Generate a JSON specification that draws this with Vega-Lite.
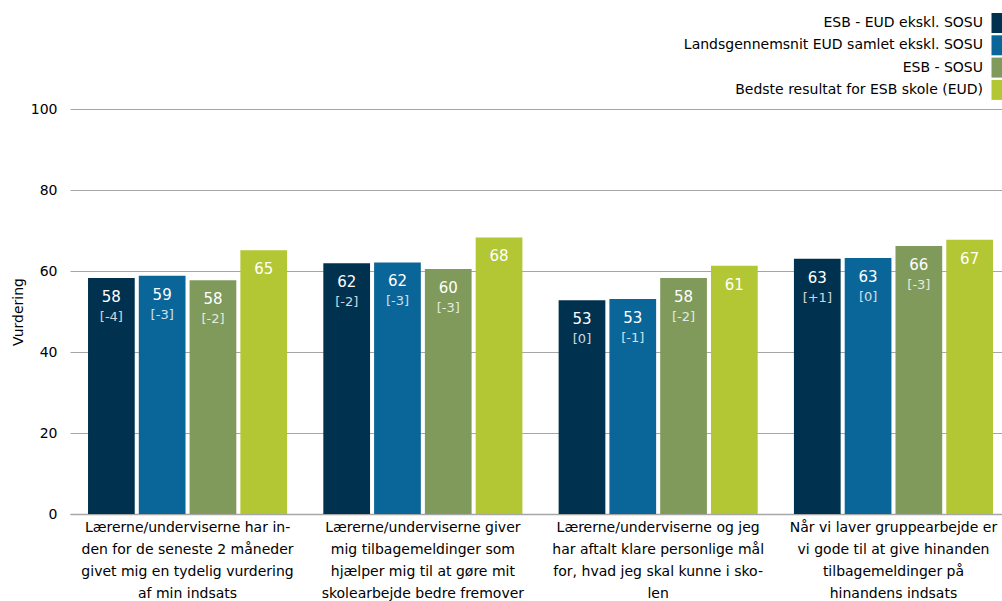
{
  "$schema": "https://vega.github.io/schema/vega-lite/v6.json",
  "width": 932,
  "height": 405,
  "autosize": {"type": "none"},
  "padding": {"left": 70, "top": 109, "right": 0, "bottom": 87},
  "config": {
    "view": {"stroke": null},
    "font": "DejaVu Sans",
    "axis": {"labelColor": "#000000", "titleColor": "#000000", "labelFontSize": 14, "titleFontSize": 14, "titleFontWeight": "normal"}
  },
  "data": {
    "values": [
      {"q": "Lærerne/underviserne har in-|den for de seneste 2 måneder|givet mig en tydelig vurdering|af min indsats", "s": "ESB - EUD ekskl. SOSU", "v": 58.3, "lbl": "58", "d": "[-4]"},
      {"q": "Lærerne/underviserne har in-|den for de seneste 2 måneder|givet mig en tydelig vurdering|af min indsats", "s": "Landsgennemsnit EUD samlet ekskl. SOSU", "v": 58.8, "lbl": "59", "d": "[-3]"},
      {"q": "Lærerne/underviserne har in-|den for de seneste 2 måneder|givet mig en tydelig vurdering|af min indsats", "s": "ESB - SOSU", "v": 57.7, "lbl": "58", "d": "[-2]"},
      {"q": "Lærerne/underviserne har in-|den for de seneste 2 måneder|givet mig en tydelig vurdering|af min indsats", "s": "Bedste resultat for ESB skole (EUD)", "v": 65.1, "lbl": "65", "d": ""},
      {"q": "Lærerne/underviserne giver|mig tilbagemeldinger som|hjælper mig til at gøre mit|skolearbejde bedre fremover", "s": "ESB - EUD ekskl. SOSU", "v": 61.9, "lbl": "62", "d": "[-2]"},
      {"q": "Lærerne/underviserne giver|mig tilbagemeldinger som|hjælper mig til at gøre mit|skolearbejde bedre fremover", "s": "Landsgennemsnit EUD samlet ekskl. SOSU", "v": 62.1, "lbl": "62", "d": "[-3]"},
      {"q": "Lærerne/underviserne giver|mig tilbagemeldinger som|hjælper mig til at gøre mit|skolearbejde bedre fremover", "s": "ESB - SOSU", "v": 60.5, "lbl": "60", "d": "[-3]"},
      {"q": "Lærerne/underviserne giver|mig tilbagemeldinger som|hjælper mig til at gøre mit|skolearbejde bedre fremover", "s": "Bedste resultat for ESB skole (EUD)", "v": 68.3, "lbl": "68", "d": ""},
      {"q": "Lærerne/underviserne og jeg|har aftalt klare personlige mål|for, hvad jeg skal kunne i sko-|len", "s": "ESB - EUD ekskl. SOSU", "v": 52.8, "lbl": "53", "d": "[0]"},
      {"q": "Lærerne/underviserne og jeg|har aftalt klare personlige mål|for, hvad jeg skal kunne i sko-|len", "s": "Landsgennemsnit EUD samlet ekskl. SOSU", "v": 53.1, "lbl": "53", "d": "[-1]"},
      {"q": "Lærerne/underviserne og jeg|har aftalt klare personlige mål|for, hvad jeg skal kunne i sko-|len", "s": "ESB - SOSU", "v": 58.3, "lbl": "58", "d": "[-2]"},
      {"q": "Lærerne/underviserne og jeg|har aftalt klare personlige mål|for, hvad jeg skal kunne i sko-|len", "s": "Bedste resultat for ESB skole (EUD)", "v": 61.3, "lbl": "61", "d": ""},
      {"q": "Når vi laver gruppearbejde er|vi gode til at give hinanden|tilbagemeldinger på|hinandens indsats", "s": "ESB - EUD ekskl. SOSU", "v": 63.0, "lbl": "63", "d": "[+1]"},
      {"q": "Når vi laver gruppearbejde er|vi gode til at give hinanden|tilbagemeldinger på|hinandens indsats", "s": "Landsgennemsnit EUD samlet ekskl. SOSU", "v": 63.2, "lbl": "63", "d": "[0]"},
      {"q": "Når vi laver gruppearbejde er|vi gode til at give hinanden|tilbagemeldinger på|hinandens indsats", "s": "ESB - SOSU", "v": 66.2, "lbl": "66", "d": "[-3]"},
      {"q": "Når vi laver gruppearbejde er|vi gode til at give hinanden|tilbagemeldinger på|hinandens indsats", "s": "Bedste resultat for ESB skole (EUD)", "v": 67.7, "lbl": "67", "d": ""}
    ]
  },
  "encoding": {
    "x": {
      "field": "q", "type": "nominal", "sort": null, "title": null,
      "scale": {"paddingInner": 0.154, "paddingOuter": 0.0574, "align": 0.667},
      "axis": {"labelExpr": "split(datum.label, '|')", "labelAngle": 0, "labelLineHeight": 22, "labelPadding": 6, "labelBaseline": "top", "ticks": false, "domain": true, "domainColor": "#a6a6a6", "domainWidth": 1.5, "labelLimit": 400}
    },
    "xOffset": {
      "field": "s", "type": "nominal",
      "sort": ["ESB - EUD ekskl. SOSU", "Landsgennemsnit EUD samlet ekskl. SOSU", "ESB - SOSU", "Bedste resultat for ESB skole (EUD)"],
      "scale": {"paddingInner": 0.08, "paddingOuter": 0}
    },
    "y": {
      "field": "v", "type": "quantitative",
      "scale": {"domain": [0, 100]},
      "axis": {"title": "Vurdering", "values": [0, 20, 40, 60, 80, 100], "grid": true, "gridColor": "#a6a6a6", "gridWidth": 1, "domain": false, "ticks": false, "labelPadding": 13, "titlePadding": 5}
    }
  },
  "layer": [
    {
      "mark": {"type": "bar"},
      "encoding": {
        "color": {
          "field": "s", "type": "nominal",
          "scale": {
            "domain": ["ESB - EUD ekskl. SOSU", "Landsgennemsnit EUD samlet ekskl. SOSU", "ESB - SOSU", "Bedste resultat for ESB skole (EUD)"],
            "range": ["#00324f", "#0a6698", "#7f9a5a", "#b3c634"]
          },
          "legend": {
            "title": null, "orient": "none", "legendX": 917, "legendY": -96, "direction": "vertical",
            "symbolType": "M-0.55,-1H0.55V1H-0.55Z", "symbolSize": 400, "symbolStrokeWidth": 0, "symbolOpacity": 1,
            "labelAlign": "right", "labelOffset": -24, "labelFontSize": 14, "labelColor": "#000000", "labelLimit": 400,
            "rowPadding": 2.3, "padding": 0
          }
        }
      }
    },
    {
      "mark": {"type": "text", "baseline": "middle", "dy": 19, "fontSize": 15, "color": "#ffffff"},
      "encoding": {"text": {"field": "lbl"}}
    },
    {
      "mark": {"type": "text", "baseline": "middle", "dy": 39, "fontSize": 13, "color": "#ffffff", "opacity": 0.8},
      "encoding": {"text": {"field": "d"}}
    }
  ]
}
